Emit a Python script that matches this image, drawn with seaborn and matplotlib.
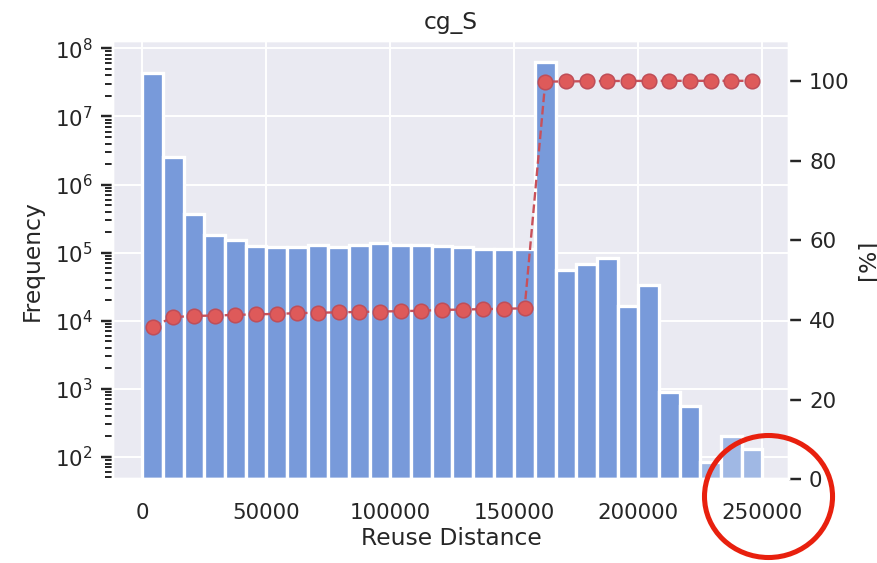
import numpy as np
import pandas as pd
import matplotlib
matplotlib.use("Agg")
import matplotlib.pyplot as plt
from matplotlib.patches import Ellipse
import seaborn as sns

# Reuse-distance histogram for cg_S: 30 equal bins over [0, 250000]
bin_edges = np.linspace(0, 250000, 31)
frequency = [
    4.3e7, 2.55e6, 3.66e5, 1.8e5, 1.55e5, 1.24e5, 1.21e5, 1.21e5, 1.28e5, 1.21e5,
    1.31e5, 1.39e5, 1.31e5, 1.31e5, 1.26e5, 1.21e5, 1.14e5, 1.14e5, 1.14e5, 6.35e7,
    5.56e4, 6.7e4, 8.3e4, 1.62e4, 3.3e4, 900, 562, 84, 200, 132,
]
# cumulative share of accesses up to each bin [%]
cumulative_pct = [
    38.3, 40.7, 41.0, 41.1, 41.25, 41.4, 41.5, 41.7, 41.8, 41.9,
    42.0, 42.1, 42.2, 42.3, 42.5, 42.6, 42.7, 42.8, 42.9, 99.8,
    99.85, 99.9, 99.95, 99.97, 99.99, 100.0, 100.0, 100.0, 100.0, 100.0,
]
n_tail = 3  # sparse tail bins shown in a lighter shade

title = "cg_S"
x_label = "Reuse Distance"
y_label = "Frequency"
y2_label = "[%]"

sns.set_theme(style="darkgrid", context="notebook")

DPI = 140
fig = plt.figure(figsize=(877 / DPI, 563 / DPI), dpi=DPI)
ax = fig.add_axes([0.1289, 0.1487, 0.7708, 0.7785])

centers = (bin_edges[:-1] + bin_edges[1:]) / 2
df = pd.DataFrame({"distance": centers, "count": frequency})
n_main = len(df) - n_tail

sns.histplot(data=df.iloc[:n_main], x="distance", weights="count",
             bins=list(bin_edges[:n_main + 1]), ax=ax, color="#789ADA", alpha=1,
             edgecolor="white", linewidth=1.7)
sns.histplot(data=df.iloc[n_main:], x="distance", weights="count",
             bins=list(bin_edges[n_main:]), ax=ax, color="#A0B8E4", alpha=1,
             edgecolor="white", linewidth=1.7)
ax.set_yscale("log")
ax.set_ylim(47, 1.28e8)
ax.set_xlim(-11800, 260800)
ax.set_xlabel(x_label, labelpad=2.5)
ax.set_ylabel(y_label, labelpad=5.5)
ax.set_title(title)
ax.tick_params(axis="x", pad=6)
ax.tick_params(axis="y", which="both", left=True, colors=".15", pad=4.5)
ax.tick_params(axis="y", which="major", length=6, width=1.25)
ax.tick_params(axis="y", which="minor", length=4, width=1)

ax2 = ax.twinx()
ax2.grid(False)
sns.lineplot(x=centers, y=cumulative_pct, ax=ax2, color="#C8505A", linestyle="--",
             linewidth=1.2, marker="o", markersize=7.5, markerfacecolor="#DE5A5A",
             markeredgecolor="#BF4E58", markeredgewidth=0.8)
ax2.set_ylim(0, 110)
ax2.set_ylabel(y2_label)
ax2.tick_params(axis="y", right=True, length=6, width=1.25, colors=".15", pad=4.3)

# highlight ring around the tail of the distribution
fig.patches.append(Ellipse((0.8763, 0.1181), 0.146, 0.2167, transform=fig.transFigure,
                           fill=False, edgecolor="#E8200E", linewidth=2.6, zorder=10))

fig.savefig("out.png", dpi=DPI)
